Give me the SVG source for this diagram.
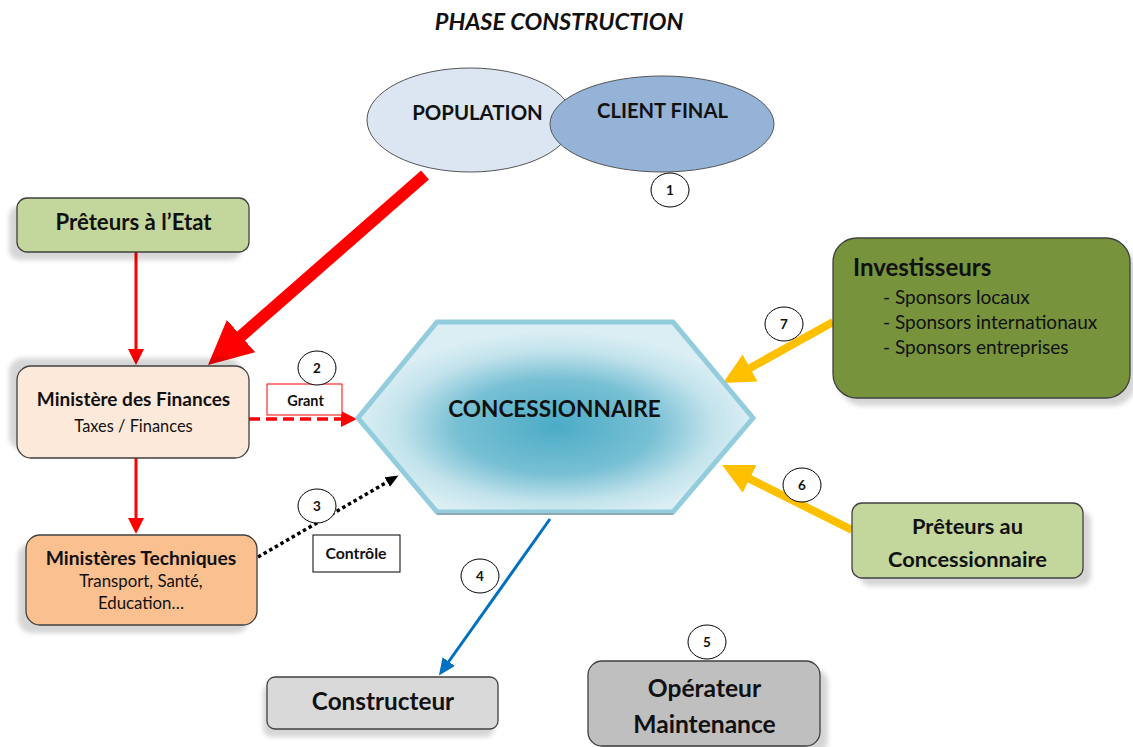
<svg xmlns="http://www.w3.org/2000/svg" width="1133" height="747" viewBox="0 0 1133 747">
<defs>
<style>
text{font-family:Lato,"Liberation Sans",sans-serif;fill:#111;}
.b{font-weight:bold;}
.c{text-anchor:middle;}
.box{stroke:#404040;stroke-width:1.3;}
.sh{fill:#000;opacity:0.16;filter:url(#blur);}
.num{fill:#fff;stroke:#000;stroke-width:1;}
.numt{font-size:13.5px;font-weight:bold;text-anchor:middle;}
</style>
<filter id="blur" x="-10%" y="-10%" width="120%" height="120%"><feGaussianBlur stdDeviation="2.5"/></filter>
<radialGradient id="hexg" cx="0.5" cy="0.55" r="0.5">
<stop offset="0" stop-color="#4BACC6"/>
<stop offset="0.5" stop-color="#78C0D4"/>
<stop offset="0.8" stop-color="#C3E3EC"/>
<stop offset="1" stop-color="#DAEEF3"/>
</radialGradient>
<marker id="orange" markerUnits="userSpaceOnUse" markerWidth="32" markerHeight="32" refX="6" refY="15.5" orient="auto">
<path d="M0,0 L31,15.5 L0,31 z" fill="#FFC000"/>
</marker>
<marker id="redbig" markerUnits="userSpaceOnUse" markerWidth="45" markerHeight="44" refX="6" refY="21.5" orient="auto">
<path d="M0,0 L44,21.5 L0,43 z" fill="#FF0000"/>
</marker>
<marker id="redsm" markerUnits="userSpaceOnUse" markerWidth="17" markerHeight="17" refX="1" refY="8" orient="auto">
<path d="M0,0 L16,8 L0,16 z" fill="#FF0000"/>
</marker>
<marker id="blk" markerUnits="userSpaceOnUse" markerWidth="14" markerHeight="12" refX="2" refY="5.5" orient="auto">
<path d="M0,0 L13,5.5 L0,11 z" fill="#000"/>
</marker>
<marker id="blue" markerUnits="userSpaceOnUse" markerWidth="18" markerHeight="16" refX="3" refY="7.5" orient="auto">
<path d="M0,0 L17,7.5 L0,15 z" fill="#0070C0"/>
</marker>
</defs>
<rect width="1133" height="747" fill="#fff"/>

<text x="559" y="30" class="b c" font-size="23.5" font-style="italic">PHASE CONSTRUCTION</text>

<g id="connectors">
<line x1="425" y1="175" x2="236.6" y2="340" stroke="#FF0000" stroke-width="12" marker-end="url(#redbig)"/>
<line x1="136" y1="252" x2="136" y2="350" stroke="#FF0000" stroke-width="3" marker-end="url(#redsm)"/>
<line x1="136" y1="458" x2="136" y2="519" stroke="#FF0000" stroke-width="3" marker-end="url(#redsm)"/>
<line x1="249" y1="419" x2="342" y2="419" stroke="#FF0000" stroke-width="3.5" stroke-dasharray="11 6" marker-end="url(#redsm)"/>
<line x1="258" y1="557" x2="389" y2="481" stroke="#000" stroke-width="3.5" stroke-dasharray="3.5 3" marker-end="url(#blk)"/>
<line x1="550" y1="519" x2="447" y2="664" stroke="#0070C0" stroke-width="3" marker-end="url(#blue)"/>
<line x1="833" y1="322" x2="744.9" y2="370.9" stroke="#FFC000" stroke-width="8" marker-end="url(#orange)"/>
<line x1="852" y1="530" x2="744.4" y2="476.2" stroke="#FFC000" stroke-width="8" marker-end="url(#orange)"/>
</g>

<g id="population">
<ellipse cx="470" cy="120" rx="103" ry="52" fill="#DCE6F2" stroke="#555" stroke-width="1"/>
<text x="477.5" y="120" class="b c" font-size="20.4">POPULATION</text>
</g>
<g id="client-final">
<ellipse cx="662" cy="124" rx="112" ry="48" fill="#95B3D7" stroke="#555" stroke-width="1"/>
<text x="662.5" y="118" class="b c" font-size="20.2">CLIENT FINAL</text>
</g>

<g id="preteurs-etat">
<rect x="9" y="206" width="232" height="54" rx="10" class="sh"/>
<rect x="17" y="198" width="232" height="54" rx="10" fill="#C3D69B" class="box"/>
<text x="133.5" y="230" class="b c" font-size="22.2">Prêteurs à l’Etat</text>
</g>

<g id="ministere-finances">
<rect x="9" y="358" width="232" height="92" rx="14" class="sh"/>
<rect x="17" y="366" width="232" height="92" rx="14" fill="#FDE9D9" class="box"/>
<text x="133.5" y="406" class="b c" font-size="19">Ministère des Finances</text>
<text x="133.5" y="432" class="c" font-size="16.4">Taxes / Finances</text>
</g>

<g id="ministeres-techniques">
<rect x="18" y="543" width="231" height="90" rx="14" class="sh"/>
<rect x="26" y="535" width="231" height="90" rx="14" fill="#FAC090" class="box"/>
<text x="141" y="565" class="b c" font-size="19.3">Ministères Techniques</text>
<text x="141" y="587" class="c" font-size="16.8">Transport, Santé,</text>
<text x="141" y="609" class="c" font-size="16.8">Education…</text>
</g>

<g id="concessionnaire">
<polygon points="437,322 673,322 753,418 673,512 437,512 358,418" fill="url(#hexg)" stroke="#93CDDD" stroke-width="5" stroke-linejoin="miter"/>
<line x1="437" y1="514" x2="673" y2="514" stroke="#8AA9B2" stroke-width="2"/>
<text x="554.5" y="417" class="b c" font-size="22.6">CONCESSIONNAIRE</text>
</g>

<g id="investisseurs">
<rect x="839" y="246" width="297" height="160" rx="24" class="sh"/>
<rect x="833" y="238" width="297" height="160" rx="24" fill="#77933C" class="box"/>
<text x="853" y="276" class="b" font-size="24">Investisseurs</text>
<text x="883" y="304" font-size="19">- Sponsors locaux</text>
<text x="883" y="329" font-size="19">- Sponsors internationaux</text>
<text x="883" y="354" font-size="19">- Sponsors entreprises</text>
</g>

<g id="preteurs-concessionnaire">
<rect x="860" y="511" width="231" height="75" rx="10" class="sh"/>
<rect x="852" y="503" width="231" height="75" rx="10" fill="#C3D69B" class="box"/>
<text x="967.5" y="534" class="b c" font-size="21.8">Prêteurs au</text>
<text x="967.5" y="567" class="b c" font-size="21.8">Concessionnaire</text>
</g>

<g id="constructeur">
<rect x="263" y="685" width="231" height="52" rx="8" class="sh"/>
<rect x="267" y="677" width="231" height="52" rx="8" fill="#D9D9D9" class="box"/>
<text x="383" y="710" class="b c" font-size="24.3">Constructeur</text>
</g>

<g id="operateur">
<rect x="596" y="669" width="232" height="85" rx="14" class="sh"/>
<rect x="588" y="661" width="232" height="85" rx="14" fill="#BFBFBF" class="box"/>
<text x="704.5" y="697" class="b c" font-size="24.6">Opérateur</text>
<text x="704.5" y="733" class="b c" font-size="24.6">Maintenance</text>
</g>

<g id="grant">
<rect x="267" y="384" width="75" height="31" fill="#fff" stroke="#FF0000" stroke-width="1"/>
<text x="305.5" y="406" class="b c" font-size="14.5">Grant</text>
</g>
<g id="controle">
<rect x="313" y="535" width="87" height="37" fill="#fff" stroke="#000" stroke-width="1"/>
<text x="356" y="559" class="b c" font-size="15.8">Contrôle</text>
</g>

<g id="num1"><ellipse cx="670" cy="190" rx="19" ry="17" class="num"/><text x="670" y="195" class="numt">1</text></g>
<g id="num2"><ellipse cx="317" cy="368" rx="19" ry="17" class="num"/><text x="317" y="373" class="numt">2</text></g>
<g id="num3"><ellipse cx="317" cy="506" rx="19" ry="17" class="num"/><text x="317" y="511" class="numt">3</text></g>
<g id="num4"><ellipse cx="480" cy="576" rx="19" ry="17" class="num"/><text x="480" y="581" class="numt">4</text></g>
<g id="num5"><ellipse cx="707" cy="642" rx="19" ry="17" class="num"/><text x="707" y="647" class="numt">5</text></g>
<g id="num6"><ellipse cx="802" cy="485" rx="19" ry="17" class="num"/><text x="802" y="490" class="numt">6</text></g>
<g id="num7"><ellipse cx="784" cy="324" rx="19" ry="17" class="num"/><text x="784" y="329" class="numt">7</text></g>
</svg>
